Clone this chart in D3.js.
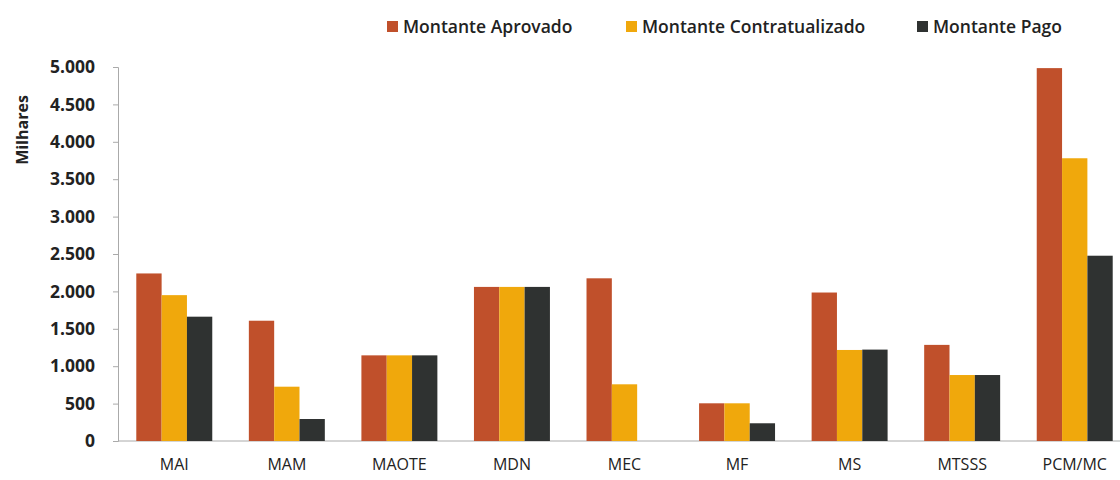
<!DOCTYPE html>
<html><head><meta charset="utf-8">
<script src="https://cdn.jsdelivr.net/npm/d3@7"></script>
<style>body{margin:0;background:#fff}svg{display:block}</style>
</head><body>
<svg id="c" width="1120" height="480"></svg>
<script>
const categories = ["MAI","MAM","MAOTE","MDN","MEC","MF","MS","MTSSS","PCM/MC"];
const seriesNames = ["Montante Aprovado","Montante Contratualizado","Montante Pago"];
const aprovado = [2240, 1608, 1145, 2060, 2175, 504, 1985, 1285, 4985];
const contratualizado = [1950, 726, 1145, 2060, 758, 504, 1217, 882, 3780];
const pago = [1662, 294, 1145, 2060, 0, 237, 1222, 882, 2477];
const yTicks = [0,500,1000,1500,2000,2500,3000,3500,4000,4500,5000];
const colors = ["#C0502B","#F0A80C","#2F3231"];

const series = [aprovado, contratualizado, pago];
const svg = d3.select("#c");
const font = "'Open Sans', Lato, sans-serif";
const y = d3.scaleLinear().domain([0,5000]).range([441,67]);
const x0 = d3.scaleBand().domain(categories).range([118,1131]).paddingInner(0.325).paddingOuter(0.1625);
const x1 = d3.scaleBand().domain(d3.range(3)).range([0,x0.bandwidth()]);

// y axis
const ya = svg.append("g").attr("transform","translate(118,0)")
  .call(d3.axisLeft(y).tickValues(yTicks).tickSize(5).tickPadding(18)
    .tickFormat(d => d3.format(",")(d).replace(/,/g,".")));
ya.select(".domain").attr("stroke","#aaa");
ya.selectAll(".tick line").attr("stroke","#aaa");
ya.selectAll("text").attr("font-family",font).attr("font-weight","bold").attr("font-size",17.5).attr("fill","#222");

// x axis
const xa = svg.append("g").attr("transform","translate(0,441)")
  .call(d3.axisBottom(x0).tickSize(0).tickPadding(18));
xa.select(".domain").attr("stroke","#aaa").attr("d","M118,0H1120");
xa.selectAll("text").attr("font-family",font).attr("font-size",16).attr("fill","#222");

// bars
const g = svg.append("g");
categories.forEach((c,i) => {
  series.forEach((s,k) => {
    g.append("rect")
      .attr("x", x0(c) + x1(k))
      .attr("y", y(s[i]))
      .attr("width", x1.bandwidth())
      .attr("height", y(0) - y(s[i]))
      .attr("fill", colors[k]);
  });
});

// y label
svg.append("text").attr("transform","translate(28,130) rotate(-90)")
  .attr("text-anchor","middle").attr("font-family",font).attr("font-weight","bold")
  .attr("font-size",16).attr("fill","#222").text("Milhares");

// legend
const legX = [387, 626, 917];
seriesNames.forEach((n,k) => {
  svg.append("rect").attr("x",legX[k]).attr("y",21).attr("width",11).attr("height",11).attr("fill",colors[k]);
  svg.append("text").attr("x",legX[k]+16).attr("y",33).attr("font-family",font).attr("font-weight",600)
    .attr("font-size",17.5).attr("fill","#222").text(n);
});
</script>
</body></html>
